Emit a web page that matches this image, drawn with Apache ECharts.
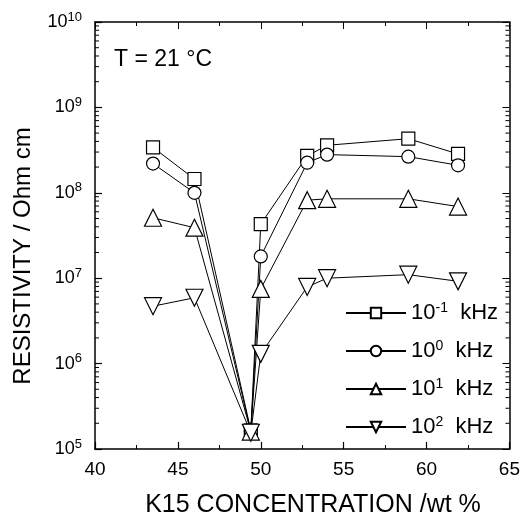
<!DOCTYPE html>
<html>
<head>
<meta charset="utf-8">
<script src="https://cdn.jsdelivr.net/npm/echarts@6/dist/echarts.min.js"></script>
<style>html,body{margin:0;padding:0;background:#fff;}#c{width:523px;height:518px;}</style>
</head>
<body>
<div id="c"></div>
<script>
var concentration = [43.5, 46.0, 49.4, 50.0, 52.8, 54.0, 58.9, 61.9];
var res_0p1kHz = [3.4e8, 1.45e8, 1.65e5, 4.3e7, 2.7e8, 3.6e8, 4.3e8, 2.85e8];
var res_1kHz   = [2.2e8, 1.0e8, 1.6e5, 1.8e7, 2.25e8, 2.8e8, 2.65e8, 2.1e8];
var res_10kHz  = [5.1e7, 3.9e7, 1.6e5, 7.5e6, 8.2e7, 8.5e7, 8.5e7, 6.9e7];
var res_100kHz = [4.7e6, 5.9e6, 1.55e5, 1.3e6, 7.9e6, 1.0e7, 1.1e7, 9.2e6];
var seriesNames = ['10^-1 kHz', '10^0 kHz', '10^1 kHz', '10^2 kHz'];
var seriesExp = ['-1', '0', '1', '2'];
var xTicks = [40, 45, 50, 55, 60, 65];
var yDecades = [5, 6, 7, 8, 9, 10];

// minor tick positions of the log axis (2..9 in each decade)
var minorVals = [];
for (var d = 5; d < 10; d++) { for (var m = 2; m <= 9; m++) { minorVals.push(m * Math.pow(10, d)); } }

function pts(ys) { return concentration.map(function (x, i) { return [x, ys[i]]; }); }

var FONT = 'Liberation Sans';
var black = '#000';

function mkSeries(name, data, symbol, rotate, size) {
  return {
    type: 'line', name: name, data: pts(data),
    symbol: symbol, symbolSize: size, symbolRotate: rotate,
    showAllSymbol: true,
    lineStyle: { color: black, width: 1 },
    itemStyle: { color: '#fff', borderColor: black, borderWidth: 1.2 },
    emphasis: { disabled: true },
    z: 3
  };
}

var chart = echarts.init(document.getElementById('c'), null, { renderer: 'canvas' });
var option = {
  animation: false,
  backgroundColor: '#fff',
  grid: { left: 95, right: 13, top: 22, bottom: 69 },
  xAxis: [{
    type: 'value', min: 40, max: 65, interval: 5,
    axisLine: { lineStyle: { color: black, width: 1.5 } },
    axisTick: { inside: true, length: 7, lineStyle: { color: black, width: 1.2 } },
    minorTick: { show: true, splitNumber: 2, length: 4, lineStyle: { color: black, width: 1 } },
    axisLabel: { fontFamily: FONT, fontSize: 19, color: black, margin: 11 },
    splitLine: { show: false }
  }, {
    type: 'value', min: 40, max: 65, interval: 5, position: 'top',
    axisLine: { lineStyle: { color: black, width: 1.5 } },
    axisTick: { inside: true, length: 7, lineStyle: { color: black, width: 1 } },
    minorTick: { show: true, splitNumber: 2, length: 4, lineStyle: { color: black, width: 1 } },
    axisLabel: { show: false }, splitLine: { show: false }
  }],
  yAxis: [{
    type: 'log', logBase: 10, min: 1e5, max: 1e10,
    axisLine: { lineStyle: { color: black, width: 1.5 } },
    axisTick: { inside: true, length: 7, lineStyle: { color: black, width: 1.2 } },
    axisLabel: {
      margin: 13,
      formatter: function (v) { return '{b|10}{s|' + Math.round(Math.log10(v)) + '}'; },
      rich: {
        b: { fontFamily: FONT, fontSize: 18, color: black },
        s: { fontFamily: FONT, fontSize: 13, color: black, verticalAlign: 'top', padding: [0, 0, 10, 0] }
      }
    },
    splitLine: { show: false }
  }, {
    type: 'log', logBase: 10, min: 1e5, max: 1e10, position: 'right',
    axisLine: { lineStyle: { color: black, width: 1.5 } },
    axisTick: { inside: true, length: 7, lineStyle: { color: black, width: 1 } },
    axisLabel: { show: false }, splitLine: { show: false }
  }],
  legend: {
    data: seriesNames, orient: 'vertical', left: 340, top: 296,
    itemWidth: 60, itemHeight: 13, itemGap: 15,
    formatter: function (n) {
      var i = seriesNames.indexOf(n);
      return '{b|10}{s|' + seriesExp[i] + '}{b|  kHz}';
    },
    textStyle: {
      rich: {
        b: { fontFamily: FONT, fontSize: 22, color: black },
        s: { fontFamily: FONT, fontSize: 14, color: black, verticalAlign: 'top', padding: [0, 0, 10, 0] }
      }
    },
    selectedMode: false
  },
  graphic: [{
    type: 'text', left: 114, top: 48,
    style: { text: 'T = 21 °C', fontFamily: FONT, fontSize: 23, fill: black }
  }, {
    type: 'text', x: 313, y: 505,
    style: { text: 'K15 CONCENTRATION /wt %', fontFamily: FONT, fontSize: 25, fill: black, align: 'center', verticalAlign: 'middle' }
  }, {
    type: 'text', x: 23, y: 256, rotation: Math.PI / 2,
    style: { text: 'RESISTIVITY / Ohm cm', fontFamily: FONT, fontSize: 24, fill: black, align: 'center', verticalAlign: 'middle' }
  }],
  series: [
    mkSeries(seriesNames[0], res_0p1kHz, 'rect', 0, 13),
    mkSeries(seriesNames[1], res_1kHz, 'circle', 0, 13),
    mkSeries(seriesNames[2], res_10kHz, 'triangle', 0, 17),
    mkSeries(seriesNames[3], res_100kHz, 'triangle', 180, 17),
    {
      type: 'custom', name: 'minorTicks', silent: true, z: 2,
      data: minorVals,
      renderItem: function (params, api) {
        var v = api.value(0);
        var pL = api.coord([40, v]);
        var pR = api.coord([65, v]);
        return {
          type: 'group', children: [
            { type: 'line', shape: { x1: pL[0], y1: pL[1], x2: pL[0] + 4, y2: pL[1] }, style: { stroke: black, lineWidth: 1 } },
            { type: 'line', shape: { x1: pR[0], y1: pR[1], x2: pR[0] - 4, y2: pR[1] }, style: { stroke: black, lineWidth: 1 } }
          ]
        };
      },
      encode: { y: 0 }
    }
  ]
};
chart.setOption(option);
</script>
</body>
</html>
